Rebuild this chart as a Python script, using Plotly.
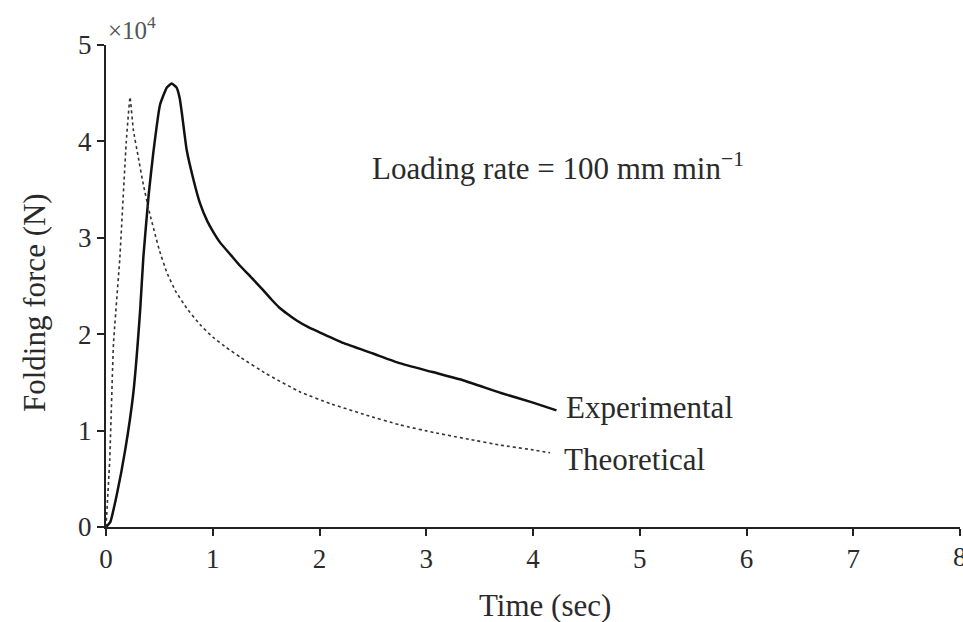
import plotly.graph_objects as go

# Experimental curve (time in s, force in 1e4 N)
exp_t = [0, 0.04, 0.1, 0.18, 0.256, 0.32, 0.35, 0.40, 0.443, 0.506, 0.57, 0.615, 0.66, 0.69, 0.71,
         0.756, 0.82, 0.88, 0.95, 1.0, 1.07, 1.17, 1.255, 1.36, 1.47, 1.55, 1.62, 1.70, 1.79, 1.9,
         2.0, 2.22, 2.5, 2.75, 3.05, 3.35, 3.7, 4.0, 4.22]
exp_f = [0, 0.05, 0.33, 0.80, 1.39, 2.25, 2.8, 3.45, 3.88, 4.38, 4.56, 4.60, 4.56, 4.45, 4.30,
         3.91, 3.60, 3.36, 3.17, 3.07, 2.95, 2.82, 2.71, 2.59, 2.46, 2.36, 2.28, 2.21, 2.14, 2.07,
         2.02, 1.91, 1.80, 1.70, 1.61, 1.52, 1.39, 1.29, 1.21]

# Theoretical curve
theo_t = [0, 0.035, 0.07, 0.13, 0.19, 0.225, 0.256, 0.30, 0.35, 0.41, 0.5, 0.57, 0.65, 0.756,
          0.88, 1.0, 1.13, 1.26, 1.5, 1.82, 2.1, 2.44, 2.75, 3.07, 3.4, 3.69, 4.0, 4.16]
theo_f = [0, 0.7, 1.9, 2.8, 4.0, 4.46, 4.12, 3.85, 3.55, 3.25, 2.87, 2.64, 2.45, 2.27,
          2.10, 1.97, 1.86, 1.76, 1.59, 1.40, 1.28, 1.16, 1.06, 0.98, 0.91, 0.85, 0.80, 0.77]

x_ticks = [0, 1, 2, 3, 4, 5, 6, 7, 8]
y_ticks = [0, 1, 2, 3, 4, 5]

FONT = "Liberation Serif, Times New Roman, serif"
TXT = "#2a2a2a"

fig = go.Figure()
fig.add_trace(go.Scatter(x=exp_t, y=exp_f, mode="lines",
                         line=dict(color="#111", width=2.5, shape="spline", smoothing=0.4),
                         name="Experimental", showlegend=False))
fig.add_trace(go.Scatter(x=theo_t, y=theo_f, mode="lines",
                         line=dict(color="#333", width=1.6, dash="dot", shape="spline", smoothing=0.3),
                         name="Theoretical", showlegend=False))

fig.add_annotation(x=exp_t[-1], y=exp_f[-1], text="Experimental", showarrow=False, xanchor="left", yanchor="middle",
                   xshift=8, yshift=3, font=dict(family=FONT, size=31, color=TXT))
fig.add_annotation(x=theo_t[-1], y=theo_f[-1], text="Theoretical", showarrow=False, xanchor="left", yanchor="middle",
                   xshift=12, yshift=-7, font=dict(family=FONT, size=31, color=TXT))
fig.add_annotation(x=2.47, y=3.74, text="Loading rate = 100 mm min<sup>−1</sup>", showarrow=False, xanchor="left",
                   yanchor="middle", font=dict(family=FONT, size=31, color=TXT))
fig.add_annotation(x=0, y=5, xref="x", yref="y", text="×10<sup>4</sup>", showarrow=False, xanchor="left",
                   yanchor="bottom", xshift=0, yshift=-1, font=dict(family=FONT, size=25, color="#555"))

# axis titles placed as annotations
fig.add_annotation(x=-0.083, y=0.465, xref="paper", yref="paper", text="Folding force (N)", textangle=-90,
                   showarrow=False, xanchor="center", yanchor="middle", font=dict(family=FONT, size=31, color=TXT))
fig.add_annotation(x=0.514, y=-0.162, xref="paper", yref="paper", text="Time (sec)",
                   showarrow=False, xanchor="center", yanchor="middle", font=dict(family=FONT, size=31, color=TXT))

# last x tick label, cut by the page edge as in the original
fig.add_annotation(x=x_ticks[-1], y=0, xref="x", yref="paper", text=str(x_ticks[-1]), showarrow=False,
                   xanchor="center", yanchor="top", yshift=-13, font=dict(family=FONT, size=27, color=TXT))

axis_common = dict(showgrid=False, zeroline=False, showline=True, linewidth=2, linecolor="#222",
                   ticks="outside", ticklen=7, tickwidth=2, tickcolor="#222",
                   tickfont=dict(family=FONT, size=27, color=TXT))

fig.update_xaxes(range=[0, 8], tickvals=x_ticks, ticktext=[str(v) for v in x_ticks], **axis_common)
fig.update_yaxes(range=[0, 5], tickvals=y_ticks, ticktext=[str(v) for v in y_ticks], **axis_common)

fig.update_layout(width=963, height=622, margin=dict(l=106, r=3, t=45, b=95),
                  plot_bgcolor="white", paper_bgcolor="white", showlegend=False)

fig.write_html("out.html")
